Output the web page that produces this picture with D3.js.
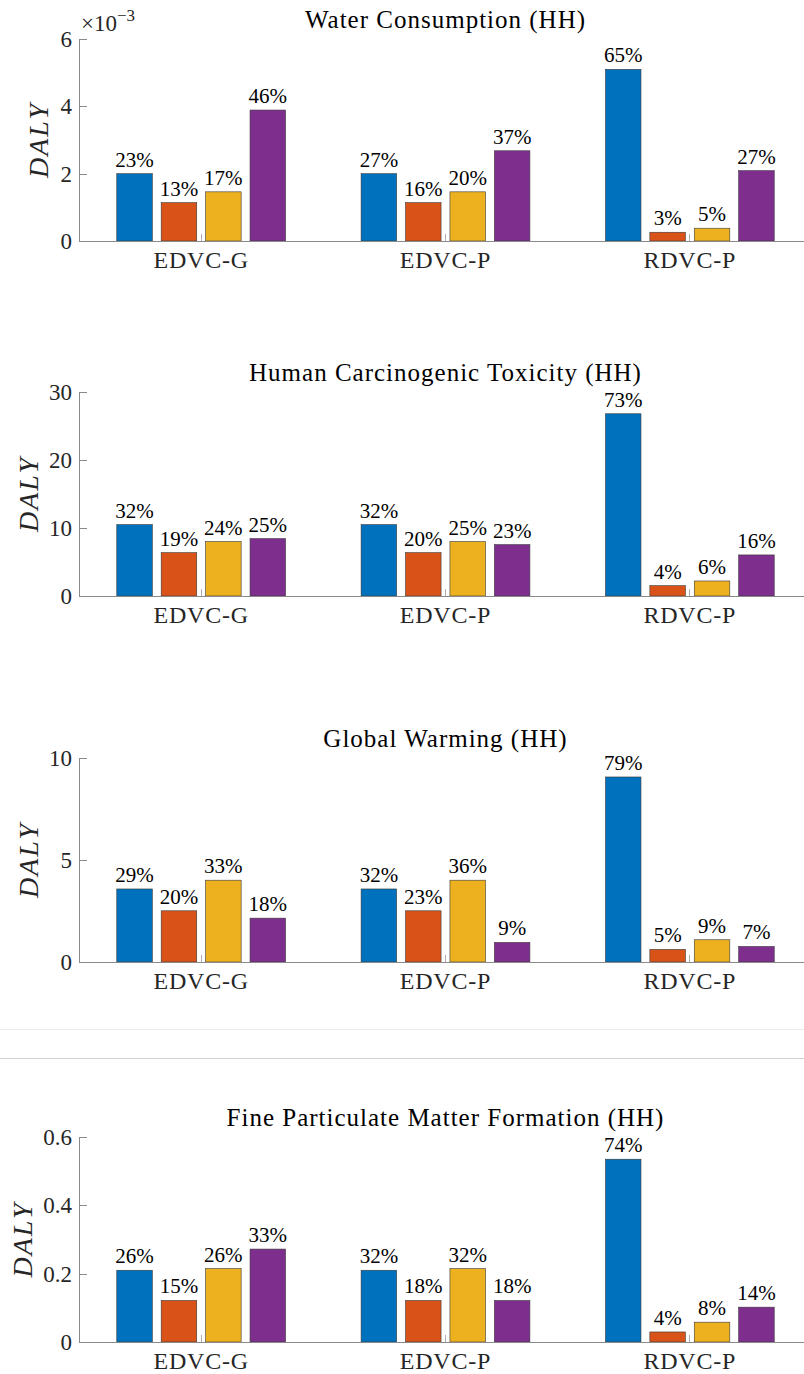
<!DOCTYPE html>
<html>
<meta charset="utf-8">
<style>
  body {
    margin: 0;
    background: #fff;
  }
  svg {
    display: block;
  }
  svg text {
    font-family: "Liberation Serif", "DejaVu Serif", serif;
  }
  .axis path, .axis line {
    shape-rendering: crispEdges;
  }
</style>

<body>
  <svg width="804" height="1374"></svg>
</body>

<script src="https://d3js.org/d3.v7.min.js"></script>

<script>

  // DATA
  var categories = ["EDVC-G", "EDVC-P", "RDVC-P"];
  var colors = ["#0072BD", "#D95319", "#EDB120", "#7E2F8E"];

  var titles = ["Water Consumption (HH)",
                "Human Carcinogenic Toxicity (HH)",
                "Global Warming (HH)",
                "Fine Particulate Matter Formation (HH)"];

  // one row per category, four bars each (DALY)
  var waterValues = [[0.00200, 0.00114, 0.00146, 0.00389],
                     [0.00200, 0.00114, 0.00146, 0.00268],
                     [0.00510, 0.00026, 0.00038, 0.00209]];
  var toxicityValues = [[10.5, 6.38, 8.0, 8.44],
                        [10.5, 6.38, 8.0, 7.56],
                        [26.8, 1.52, 2.21, 6.04]];
  var warmingValues = [[3.58, 2.51, 4.01, 2.15],
                       [3.58, 2.51, 4.01, 0.96],
                       [9.07, 0.62, 1.09, 0.76]];
  var particulateValues = [[0.210, 0.1215, 0.215, 0.272],
                           [0.210, 0.1215, 0.2146, 0.1215],
                           [0.535, 0.0294, 0.058, 0.102]];

  // share labels printed above the bars
  var waterPct = [[23, 13, 17, 46], [27, 16, 20, 37], [65, 3, 5, 27]];
  var toxicityPct = [[32, 19, 24, 25], [32, 20, 25, 23], [73, 4, 6, 16]];
  var warmingPct = [[29, 20, 33, 18], [32, 23, 36, 9], [79, 5, 9, 7]];
  var particulatePct = [[26, 15, 26, 33], [32, 18, 32, 18], [74, 4, 8, 14]];

  // y ticks
  var waterTicks = [0, 0.002, 0.004, 0.006];
  var waterTickLabels = ["0", "2", "4", "6"];
  var toxicityTicks = [0, 10, 20, 30];
  var toxicityTickLabels = ["0", "10", "20", "30"];
  var warmingTicks = [0, 5, 10];
  var warmingTickLabels = ["0", "5", "10"];
  var particulateTicks = [0, 0.2, 0.4, 0.6];
  var particulateTickLabels = ["0", "0.2", "0.4", "0.6"];

  var panels = [
    {title: titles[0], values: waterValues, pct: waterPct, ticks: waterTicks, tickLabels: waterTickLabels, max: 0.006, exponent: true},
    {title: titles[1], values: toxicityValues, pct: toxicityPct, ticks: toxicityTicks, tickLabels: toxicityTickLabels, max: 30},
    {title: titles[2], values: warmingValues, pct: warmingPct, ticks: warmingTicks, tickLabels: warmingTickLabels, max: 10},
    {title: titles[3], values: particulateValues, pct: particulatePct, ticks: particulateTicks, tickLabels: particulateTickLabels, max: 0.6}
  ];

  // LAYOUT (pixels)
  var plotLeft = 79, plotRight = 812;
  var plotTops = [39, 392, 758, 1137];
  var plotBottoms = [241, 596, 962, 1342];
  var yLabelX = [38, 28, 28, 22];

  var svg = d3.select("svg");

  // faint separator lines between panels 3 and 4
  svg.append("line")
    .attr("x1", 0).attr("x2", 804).attr("y1", 1029.5).attr("y2", 1029.5)
    .attr("stroke", "#ebebeb").attr("stroke-width", 1);
  svg.append("line")
    .attr("x1", 0).attr("x2", 804).attr("y1", 1058.5).attr("y2", 1058.5)
    .attr("stroke", "#d2d2d2").attr("stroke-width", 1);

  var xScale = d3.scaleBand()
    .domain(categories)
    .range([plotLeft, plotRight])
    .paddingInner(0)
    .paddingOuter(0);

  var groupHalf = xScale.bandwidth() * 0.3636;
  var innerScale = d3.scaleBand()
    .domain([0, 1, 2, 3])
    .range([-groupHalf, groupHalf])
    .paddingInner(0.2)
    .paddingOuter(0.1);

  function drawPanel(p, i) {
    var top = plotTops[i], bottom = plotBottoms[i];
    var g = svg.append("g");

    var yScale = d3.scaleLinear()
      .domain([0, p.max])
      .range([bottom, top]);

    // title
    g.append("text")
      .attr("x", (plotLeft + plotRight) / 2)
      .attr("y", top - 11)
      .attr("text-anchor", "middle")
      .attr("font-size", 25)
      .attr("letter-spacing", 1)
      .attr("fill", "#000")
      .text(p.title);

    // bars
    var groups = g.selectAll(".grp")
      .data(p.values)
      .enter().append("g")
      .attr("class", "grp")
      .attr("transform", function(d, k) { return "translate(" + (xScale(categories[k]) + xScale.bandwidth() / 2) + ",0)"; });

    groups.selectAll("rect")
      .data(function(d) { return d; })
      .enter().append("rect")
      .attr("x", function(d, j) { return innerScale(j); })
      .attr("width", innerScale.bandwidth())
      .attr("y", function(d) { return yScale(d); })
      .attr("height", function(d) { return bottom - yScale(d); })
      .attr("fill", function(d, j) { return colors[j]; })
      .attr("stroke", "#3a3a3a")
      .attr("stroke-width", 0.6);

    groups.selectAll("text")
      .data(function(d, k) { return d.map(function(v, j) { return {v: v, pct: p.pct[k][j]}; }); })
      .enter().append("text")
      .attr("x", function(d, j) { return innerScale(j) + innerScale.bandwidth() / 2; })
      .attr("y", function(d) { return yScale(d.v) - 7; })
      .attr("text-anchor", "middle")
      .attr("font-size", 21)
      .attr("fill", "#000")
      .text(function(d) { return d.pct + "%"; });

    // x axis
    var xAxis = d3.axisBottom(xScale).tickSize(0).tickPadding(0);
    var xg = g.append("g")
      .attr("class", "axis")
      .attr("font-family", null)
      .attr("transform", "translate(0," + bottom + ")")
      .call(xAxis);
    xg.select(".domain").attr("stroke", "#8a8a8a");
    xg.selectAll(".tick text")
      .attr("font-size", 24)
      .attr("letter-spacing", 0.8)
      .attr("fill", "#262626")
      .attr("y", 27)
      .attr("dy", 0);
    xg.selectAll(".tick").append("line")
      .attr("y1", 0).attr("y2", -7)
      .attr("stroke", "#b0b0b0");

    // y axis
    var yAxis = d3.axisLeft(yScale)
      .tickValues(p.ticks)
      .tickFormat(function(d, k) { return p.tickLabels[k]; })
      .tickSizeInner(-8)
      .tickSizeOuter(0)
      .tickPadding(7);
    var yg = g.append("g")
      .attr("class", "axis")
      .attr("font-family", null)
      .attr("transform", "translate(" + plotLeft + ",0)")
      .call(yAxis);
    yg.select(".domain").attr("stroke", "#8a8a8a");
    yg.selectAll(".tick line").attr("stroke", "#8a8a8a");
    yg.selectAll(".tick text")
      .attr("font-size", 23)
      .attr("fill", "#262626")
      .attr("x", -7);

    // y label
    g.append("text")
      .attr("transform", "translate(" + (yLabelX[i] + 10) + "," + ((top + bottom) / 2) + ") rotate(-90)")
      .attr("text-anchor", "middle")
      .attr("font-size", 28)
      .attr("font-style", "italic")
      .attr("letter-spacing", 2)
      .attr("fill", "#262626")
      .text("DALY");

    // exponent label
    if (p.exponent) {
      var ex = g.append("text")
        .attr("x", plotLeft + 2)
        .attr("y", top - 8)
        .attr("font-size", 23)
        .attr("fill", "#262626");
      ex.append("tspan").text("\u00d710");
      ex.append("tspan").attr("dy", -10).attr("font-size", 17).text("\u22123");
    }
  }

  panels.forEach(drawPanel);

</script>

</html>
